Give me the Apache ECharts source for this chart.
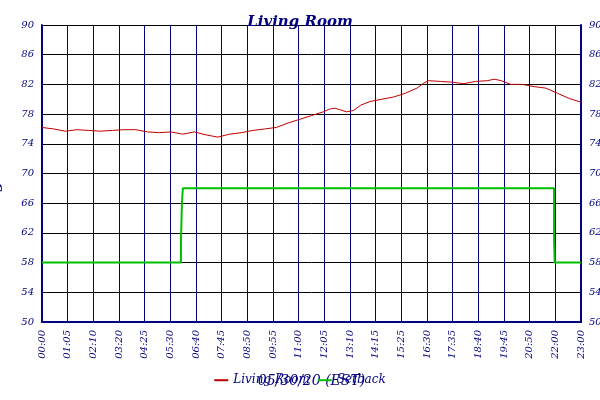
<!DOCTYPE html><html><head><script src="https://cdn.jsdelivr.net/npm/echarts@6/dist/echarts.min.js"></script></head><body style="margin:0"><div id="c" style="width:600px;height:400px"></div><script>
const tickLabels=["00:00","01:05","02:10","03:20","04:25","05:30","06:40","07:45","08:50","09:55","11:00","12:05","13:10","14:15","15:25","16:30","17:35","18:40","19:45","20:50","22:00","23:00"];
const roomHours=[0,0.5,1,1.5,2,2.5,3,3.5,4,4.5,5,5.5,6,6.5,7,7.5,8,8.5,9,9.5,10,10.5,11,11.5,12,12.3,12.5,12.7,13,13.3,13.6,14,14.5,15,15.5,16,16.3,16.5,17,17.5,18,18.5,19,19.3,19.6,20,20.5,21,21.5,22,22.5,23];
const roomTemps=[76.2,76.0,75.7,75.9,75.8,75.7,75.8,75.9,75.9,75.6,75.5,75.6,75.3,75.6,75.2,74.9,75.3,75.5,75.8,76.0,76.2,76.8,77.3,77.8,78.3,78.7,78.8,78.6,78.3,78.5,79.2,79.7,80.0,80.3,80.8,81.5,82.2,82.5,82.4,82.3,82.1,82.4,82.5,82.7,82.5,82.0,82.0,81.7,81.5,80.8,80.1,79.6];
const setHours=[0,5.93,5.93,5.97,5.97,6.01,21.85,21.85,21.88,21.88,23];
const setTemps=[58,58,61,61,66,68,68,61,61,58,58];
const k=21/23;
const pts=(h,v)=>h.map((x,i)=>[x*k,v[i]]);
const navy='#000080',font='DejaVu Serif';
const lab={color:navy,fontStyle:'italic',fontFamily:font,fontSize:10};
const c=echarts.init(document.getElementById('c'));
c.setOption({backgroundColor:'#fff',animation:false,
title:{text:'Living Room',left:'center',top:1,textStyle:{color:navy,fontStyle:'italic',fontWeight:'bold',fontFamily:font,fontSize:15}},
legend:{bottom:3,left:'center',itemWidth:14,itemHeight:2,icon:'rect',textStyle:{color:navy,fontStyle:'italic',fontFamily:font,fontSize:12},data:['Living Room','Setback']},
grid:{left:42,right:19,top:25,bottom:78,outerBoundsMode:'none',containLabel:false},
xAxis:{type:'value',min:0,max:21,interval:1,name:'05/30/20 (EST)',nameLocation:'middle',nameGap:46,nameTextStyle:{color:navy,fontStyle:'italic',fontFamily:font,fontSize:14},
axisLabel:Object.assign({rotate:90,formatter:v=>tickLabels[Math.round(v)]},lab),axisLine:{lineStyle:{color:navy,width:2}},axisTick:{show:false},splitLine:{lineStyle:{color:navy,width:1}}},
yAxis:[{type:'value',min:50,max:90,interval:4,name:'Degrees F',nameLocation:'middle',nameGap:28,nameTextStyle:{color:navy,fontStyle:'italic',fontWeight:'bold',fontFamily:font,fontSize:14},axisLabel:lab,axisLine:{show:true,lineStyle:{color:navy,width:2}},axisTick:{show:false},splitLine:{lineStyle:{color:'#000',width:1}}},
{type:'value',min:50,max:90,interval:4,position:'right',axisLabel:lab,axisLine:{show:true,lineStyle:{color:navy,width:2}},axisTick:{show:false},splitLine:{show:false}}],
series:[{name:'Living Room',type:'line',data:pts(roomHours,roomTemps),showSymbol:false,lineStyle:{color:'#c00000',width:1},itemStyle:{color:'#c00000'}},
{name:'Setback',type:'line',data:pts(setHours,setTemps),showSymbol:false,lineStyle:{color:'#00c000',width:2},itemStyle:{color:'#00c000'}}]});
</script></body></html>
